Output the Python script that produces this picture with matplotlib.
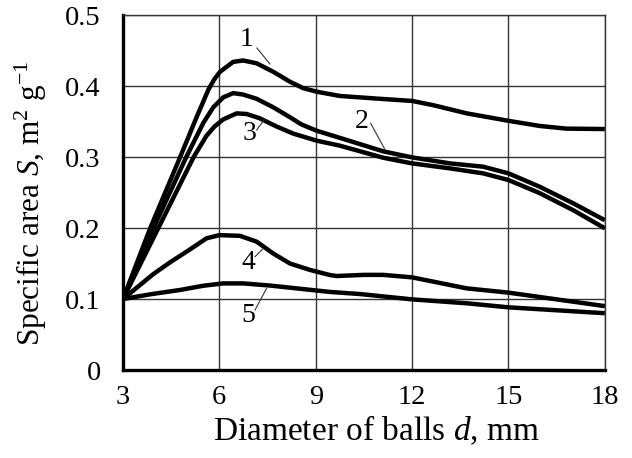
import matplotlib
matplotlib.use("Agg")
import matplotlib.pyplot as plt

plt.rcParams['font.family'] = ['Liberation Serif', 'DejaVu Serif']
plt.rcParams['mathtext.fontset'] = 'custom'
plt.rcParams['mathtext.rm'] = 'Liberation Serif'
plt.rcParams['mathtext.it'] = 'Liberation Serif:italic'

# ---- data ----
x1 = [3, 3.85, 4.78, 5.3, 5.66, 5.85, 6.02, 6.43, 6.74, 7.16, 7.68, 8.2, 8.61, 9.03, 9.75, 11, 12, 12.66, 13.7, 15, 15.98, 16.8, 18]
y1 = [0.1, 0.2, 0.3, 0.357, 0.395, 0.41, 0.42, 0.434, 0.436, 0.432, 0.42, 0.406, 0.397, 0.392, 0.386, 0.382, 0.379, 0.373, 0.3615, 0.351, 0.3437, 0.34, 0.3394]

x2 = [3, 3.95, 4.97, 5.5, 5.81, 6.12, 6.43, 6.74, 7.16, 7.68, 8.2, 8.55, 9.03, 9.75, 11.1, 12, 13.18, 14.21, 15, 15.98, 17.02, 18]
y2 = [0.1, 0.2, 0.3, 0.348, 0.37, 0.384, 0.39, 0.388, 0.382, 0.37, 0.356, 0.346, 0.337, 0.327, 0.308, 0.2995, 0.291, 0.2864, 0.277, 0.258, 0.2347, 0.211]

x3 = [3, 4.1, 5.2, 5.6, 5.85, 6.12, 6.54, 6.85, 7.26, 7.78, 8.3, 9.03, 9.75, 11.1, 12, 13.18, 14.21, 15, 15.98, 17.02, 18]
y3 = [0.1, 0.2, 0.3, 0.33, 0.343, 0.353, 0.3615, 0.3606, 0.3545, 0.343, 0.333, 0.323, 0.316, 0.299, 0.291, 0.284, 0.277, 0.2676, 0.249, 0.225, 0.1996]

x4 = [3, 3.94, 4.46, 5.09, 5.6, 6.0, 6.64, 7.16, 7.68, 8.2, 8.82, 9.44, 9.65, 10.5, 11.1, 12, 13.7, 15, 18]
y4 = [0.1, 0.135, 0.1515, 0.17, 0.1855, 0.19, 0.189, 0.1808, 0.164, 0.15, 0.141, 0.1338, 0.1324, 0.134, 0.134, 0.1305, 0.115, 0.109, 0.09]

x5 = [3, 3.9, 4.77, 5.5, 6.12, 6.74, 7.57, 8.4, 9.44, 10.38, 12, 13.7, 15, 18]
y5 = [0.1, 0.107, 0.1127, 0.1187, 0.122, 0.122, 0.119, 0.115, 0.110, 0.107, 0.0995, 0.094, 0.0883, 0.080]

curve_names = ['1', '2', '3', '4', '5']
xticks = [3, 6, 9, 12, 15, 18]
yticks = [0, 0.1, 0.2, 0.3, 0.4, 0.5]
ytick_labels = ['0', '0.1', '0.2', '0.3', '0.4', '0.5']

# label text positions and leader lines (data coords)
label_pos = [(6.86, 0.465), (10.43, 0.350), (6.95, 0.333), (6.90, 0.152), (6.90, 0.077)]
leaders = [((7.17, 0.4535), (7.575, 0.431)),
           ((10.71, 0.3475), (11.15, 0.311)),
           ((7.16, 0.338), (7.39, 0.352)),
           ((7.11, 0.1596), (7.37, 0.1714)),
           ((7.11, 0.0845), (7.47, 0.115))]

fig = plt.figure(figsize=(6.32, 4.58), dpi=100)
ax = fig.add_axes([0.1946, 0.1921, 0.7624, 0.7751])

for xs, ys in [(x1, y1), (x2, y2), (x3, y3), (x4, y4), (x5, y5)]:
    ax.plot(xs, ys, color='black', lw=3.2, solid_joinstyle='round', solid_capstyle='butt', zorder=3)

for name, (tx, ty), (p0, p1) in zip(curve_names, label_pos, leaders):
    ax.text(tx, ty, name, fontsize=20, ha='center', va='center', zorder=4)
    ax.plot([p0[0], p1[0]], [p0[1], p1[1]], color='#333333', lw=0.8, zorder=4)

ax.set_xlim(3, 18)
ax.set_ylim(0, 0.5)
ax.set_xticks(xticks)
ax.set_yticks(yticks)
ax.set_yticklabels(ytick_labels)
ax.grid(True, color='#333333', lw=1.0)
ax.set_axisbelow(True)
ax.tick_params(axis='both', length=0, labelsize=20.5)
ax.tick_params(axis='x', pad=11)
ax.tick_params(axis='y', pad=16)

ax.spines['left'].set_linewidth(2.4)
ax.spines['bottom'].set_linewidth(2.4)
for s in ['top', 'right']:
    ax.spines[s].set_linewidth(1.0)
    ax.spines[s].set_color('#333333')

fig.text(0.595, 0.0393, r'Diameter of balls $d$, mm', fontsize=24, ha='center', va='baseline')
fig.text(0.049, 0.5557, r'Specific area $S$, m$^2$ g$^{-1}$', fontsize=22.5,
         rotation=90, ha='center', va='center')

fig.savefig('out.png', dpi=100, facecolor='white')
